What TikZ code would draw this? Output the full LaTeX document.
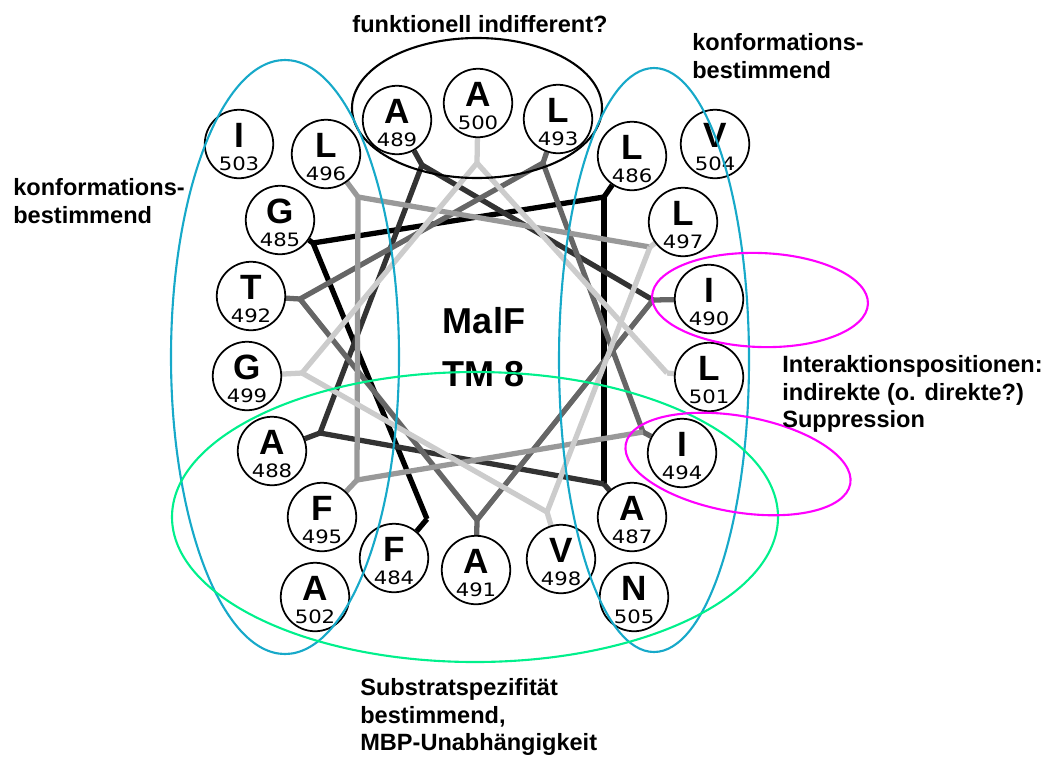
\documentclass[tikz,border=0pt]{standalone}
\usepackage{fontspec}
\setmainfont{Liberation Sans}
\newfontfamily\numfont{DejaVu Sans}
\usetikzlibrary{positioning,backgrounds}
\definecolor{HelixBlue}{HTML}{17A9C9}
\definecolor{HelixGreen}{HTML}{00F08C}
\definecolor{HelixMagenta}{HTML}{FF00FF}
\definecolor{ShadeA}{HTML}{333333}
\definecolor{ShadeB}{HTML}{666666}
\definecolor{ShadeC}{HTML}{999999}
\definecolor{ShadeD}{HTML}{CCCCCC}

\begin{document}
\begin{tikzpicture}[
  x=0.02cm, y=-0.02cm,
  res/.style={circle, draw, line width=1pt, fill=white, minimum size=1.37cm, inner sep=0pt},
  reslbl/.style={font=\fontsize{20}{20}\selectfont\bfseries, inner sep=0pt},
  resnum/.style={font=\numfont\fontsize{10.5}{10.5}\selectfont, inner sep=0pt},
  conn/.style={line width=3pt},
  zone/.style={line width=1.2pt},
  note/.style={font=\fontsize{13.4}{15.8}\selectfont\bfseries, align=left, anchor=north west, inner sep=0pt}
]
\useasboundingbox (0,0) rectangle (1050,758);

% corners of the helical net
\foreach \n/\x/\y in {484/427/519, 485/313/243, 486/604/197, 487/604/484,
  488/320/433, 489/422/165, 490/653/300, 491/477/520, 492/300/299,
  493/543/163, 494/643/432, 495/357/480, 496/358/197, 497/650/247,
  498/547/512, 499/302/373, 500/477/163, 501/667/373}
  \coordinate (c\n) at (\x,\y);

% residues
\foreach \n/\x/\y/\l in {484/394/558/F, 485/280/220/G, 486/632/156/L,
  487/632/517/A, 488/272/451/A, 489/397/120/A, 490/709/299/I,
  491/476/570/A, 492/251/296/T, 493/558/119/L, 494/682/453/I,
  495/322/517/F, 496/326/154/L, 497/683/222/L, 498/561/559/V,
  499/247/376/G, 500/478/103/A, 501/709/377/L, 502/315/597/A,
  503/239/144/I, 504/715/144/V, 505/634/597/N}
{
  \node[res] (r\n) at (\x,\y) {};
  \node[reslbl] (l\n) at (\x,{\y-9}) {\l};
  \node[resnum] (n\n) at (\x,{\y+20}) {\scalebox{1.15}[1]{\n}};
}

% connections
\begin{scope}[on background layer]
\foreach \n/\m/\sc/\lc in {484/485/black/black, 485/486/black/black,
  486/487/black/black, 487/488/ShadeA/ShadeA, 488/489/ShadeA/ShadeA,
  489/490/ShadeA/ShadeA, 490/491/ShadeB/ShadeB, 491/492/ShadeB/ShadeB,
  492/493/ShadeB/ShadeB, 493/494/ShadeB/ShadeB, 494/495/ShadeB/ShadeC,
  495/496/ShadeC/ShadeC, 496/497/ShadeC/ShadeC, 497/498/ShadeD/ShadeD,
  498/499/ShadeD/ShadeD, 499/500/ShadeD/ShadeD, 500/501/ShadeD/ShadeD}
{
  \draw[conn, \sc] (r\n) -- (c\n);
  \draw[conn, \lc] (c\n) -- (c\m);
}
\draw[conn, ShadeD] (r501) -- (c501);
\end{scope}

\node[font=\fontsize{20.5}{30}\selectfont\bfseries, align=center, inner sep=0pt] (title) at (484,347) {MalF\\TM 8};

% regions
\draw[zone] (477,108) ellipse [x radius=125, y radius=70];
\draw[zone, HelixBlue] (285,357) ellipse [x radius=114, y radius=297];
\draw[zone, HelixBlue] (654,360) ellipse [x radius=95, y radius=292];
\draw[zone, HelixGreen] (475,517) ellipse [x radius=303, y radius=145];
\draw[zone, HelixMagenta, rotate around={-2:(760,300)}] (760,300) ellipse [x radius=108, y radius=47];
\draw[zone, HelixMagenta, rotate around={-10:(738,464)}] (738,464) ellipse [x radius=114, y radius=48];

% notes
\node[note, anchor=north, align=center] (indiff) at (480,15) {funktionell indifferent?};
\node[note] (konfR) at (692,33) {konformations-\\bestimmend};
\node[note] (konfL) at (13,178) {konformations-\\bestimmend};
\node[note] (inter) at (782,355) {Interaktionspositionen:\\indirekte (o. direkte?)\\Suppression};
\node[note] (subst) at (360,678) {Substratspezifität\\bestimmend,\\MBP-Unabhängigkeit};
\end{tikzpicture}
\end{document}
